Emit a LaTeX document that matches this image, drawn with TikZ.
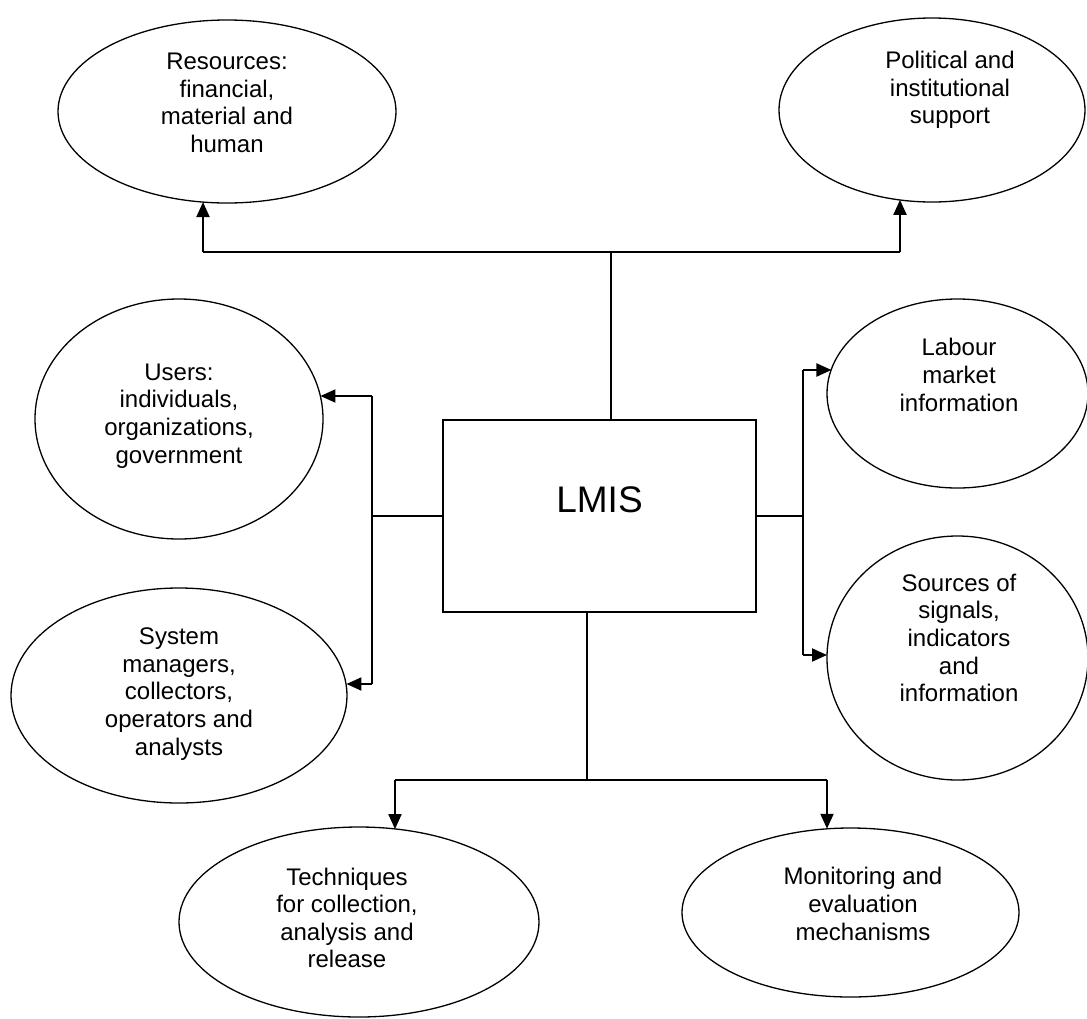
\documentclass[tikz,border=0pt]{standalone}
\usepackage{fontspec}
\setmainfont{Liberation Sans}
\usetikzlibrary{shapes.geometric,arrows.meta}
\begin{document}
\begin{tikzpicture}[x=1pt,y=-1pt,
  ell/.style={draw, ellipse, line width=1.3pt, inner sep=0pt, outer sep=0pt},
  txt/.style={align=center, font=\fontsize{24}{27.6}\selectfont, inner sep=0pt},
  con/.style={line width=2pt},
  arr/.style={line width=2pt, -{Triangle[length=15pt,width=13pt]}}
]
\fill[white] (0,0) rectangle (1087,1018);
\useasboundingbox (0,0) rectangle (1087,1018);

% central box
\node[draw, line width=2pt, minimum width=313pt, minimum height=192pt, inner sep=0pt, outer sep=0pt] (lmis) at (599.5,516) {};
\node[font=\fontsize{37}{40}\selectfont, inner sep=0pt, anchor=base] (lmist) at (599.5,512) {LMIS};

% ellipses
\node[ell, minimum width=338pt, minimum height=183pt] (res) at (227,111.5) {};
\node[ell, minimum width=306pt, minimum height=184pt] (pol) at (932,110) {};
\node[ell, minimum width=288pt, minimum height=240pt] (usr) at (179,419) {};
\node[ell, minimum width=336pt, minimum height=215pt] (sys) at (179,695.5) {};
\node[ell, minimum width=261pt, minimum height=189pt] (lab) at (957.5,393.5) {};
\node[ell, minimum width=261pt, minimum height=244pt] (src) at (957.5,658) {};
\node[ell, minimum width=360pt, minimum height=190pt] (tec) at (359,922) {};
\node[ell, minimum width=337pt, minimum height=169pt] (mon) at (850.5,912.5) {};

% texts
\node[txt] (rest) at (227,103) {Resources:\\financial,\\material and\\human};
\node[txt] (polt) at (950,90) {Political and\\institutional\\support};
\node[txt] (usrt) at (179,416) {Users:\\individuals,\\organizations,\\government};
\node[txt] (syst) at (179,694) {System\\managers,\\collectors,\\operators and\\analysts};
\node[txt] (labt) at (959,375) {Labour\\market\\information};
\node[txt] (srct) at (959,638) {Sources of\\signals,\\indicators\\and\\information};
\node[txt] (tect) at (347,918) {Techniques\\for collection,\\analysis and\\release};
\node[txt] (mont) at (863,904) {Monitoring and\\evaluation\\mechanisms};

% junction coordinates
\coordinate (tj) at (611,252);
\coordinate (tl) at (203,252);
\coordinate (tr) at (900,252);
\coordinate (lj) at (372,516);
\coordinate (lu) at (372,396);
\coordinate (ld) at (372,684);
\coordinate (rj) at (803,516);
\coordinate (ru) at (803,370);
\coordinate (rd) at (803,655);
\coordinate (bj) at (587,780);
\coordinate (bl) at (395,780);
\coordinate (br) at (827,780);

% top
\draw[con] (lmis.north -| tj) -- (tj);
\draw[con] (tl) -- (tr);
\draw[arr] (tl) -- (tl |- res.255.2);
\draw[arr] (tr) -- (tr |- pol.250.4);
% left
\draw[con] (lmis.west |- lj) -- (lj);
\draw[con] (lu) -- (ld);
\draw[arr] (lu) -- (lu -| usr.9.25);
\draw[arr] (ld) -- (ld -| sys.3.9);
% right
\draw[con] (lmis.east |- rj) -- (rj);
\draw[con] (ru) -- (rd);
\draw[arr] (ru) -- (ru -| lab.169.5);
\draw[arr] (rd) -- (rd -| src.west);
% bottom
\draw[con] (lmis.south -| bj) -- (bj);
\draw[con] (bl) -- (br);
\draw[arr] (bl) -- (bl |- tec.68.9);
\draw[arr] (br) -- (br |- mon.105.7);
\end{tikzpicture}
\end{document}
